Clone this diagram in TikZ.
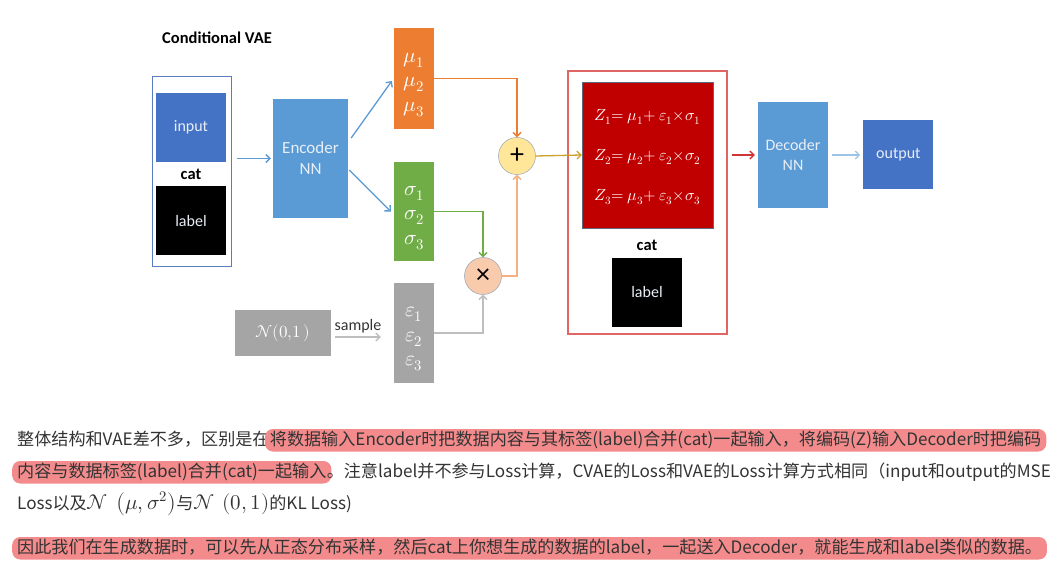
\documentclass[tikz,border=0pt]{standalone}
\usepackage{fontspec}
\usepackage{unicode-math}
\setmainfont{Carlito}
\newfontfamily\cjk{Noto Sans CJK SC}
\usetikzlibrary{positioning,arrows.meta}
\definecolor{inblue}{RGB}{68,114,196}
\definecolor{encblue}{RGB}{91,155,213}
\definecolor{muorange}{RGB}{237,125,49}
\definecolor{sigreen}{RGB}{112,173,71}
\definecolor{epsgray}{RGB}{165,165,165}
\definecolor{plusfill}{RGB}{255,230,153}
\definecolor{timesfill}{RGB}{248,203,173}
\definecolor{opline}{RGB}{132,151,176}
\definecolor{zred}{RGB}{192,0,0}
\definecolor{framered}{RGB}{224,102,102}
\definecolor{frameblue}{RGB}{90,125,190}
\definecolor{goldarr}{RGB}{201,162,39}
\definecolor{redarr}{RGB}{208,52,52}
\definecolor{paleblue}{RGB}{157,195,230}
\definecolor{paleorange}{RGB}{244,177,131}
\definecolor{palegray}{RGB}{190,190,190}
\definecolor{hlpink}{RGB}{243,139,140}
\definecolor{inktext}{RGB}{51,51,51}
\definecolor{softwhite}{RGB}{232,238,247}

\begin{document}
\begin{tikzpicture}[x=1pt,y=-1pt,
          cell/.style={fill=#1,text=softwhite,font=\fontsize{16}{20}\selectfont,
            align=center,inner sep=0pt},
          vec/.style={fill=#1,text=white,minimum width=40pt,
            font=\fontsize{21}{24.5}\selectfont,align=center,inner sep=0pt},
          op/.style={circle,draw=opline,fill=#1,minimum size=37pt,
            inner sep=0pt,font=\fontsize{28}{28}\selectfont},
          lnk/.style={draw=#1,line width=1.3pt,
            -{Straight Barb[length=4pt,width=8pt]}},
          tag/.style={font=\bfseries\fontsize{16.5}{18}\selectfont,inner sep=0pt},
          para/.style={font=\cjk\fontsize{17.1}{20}\selectfont,text=inktext,
            inner sep=0pt,anchor=base west},
          hl/.style={fill=hlpink,rounded corners=8pt,inner xsep=5pt,
            inner ysep=2pt,text height=14pt,text depth=4.5pt}]

        \fill[white] (0,0) rectangle (1062,572);
        \useasboundingbox (0,0) rectangle (1062,572);

        \node[tag] (title) at (217,38) {Conditional VAE};

        \node[cell=inblue,minimum width=70pt,minimum height=69pt] (input)
          at (191,127.5) {input};
        \node[cell=black,minimum width=70pt,minimum height=69pt,
          below=24pt of input] (lab1) {label};
        \node[tag] (cat1) at (191,174) {cat};
        \node[draw=frameblue,line width=1pt,minimum width=79pt,
          minimum height=189pt] (grp1) at (191.5,171.5) {};

        \node[cell=encblue,minimum width=75pt,minimum height=119pt,
          font=\fontsize{17}{21}\selectfont] (enc) at (310.5,158.5) {Encoder\\NN};

        \node[vec=muorange,minimum height=101pt] (mu) at (414,78.5)
          {\rule{0pt}{22pt}$\mu_1$\\$\mu_2$\\$\mu_3$};
        \node[vec=sigreen,minimum height=99pt] (sig) at (414,211.5)
          {\rule{0pt}{22pt}$\sigma_1$\\$\sigma_2$\\$\sigma_3$};
        \node[vec=epsgray,minimum height=100pt] (eps) at (414,333)
          {\rule{0pt}{22pt}$\varepsilon_1$\\$\varepsilon_2$\\$\varepsilon_3$};

        \node[cell=epsgray,text=white,minimum width=96pt,minimum height=46pt,
          font=\fontsize{17}{20}\selectfont] (prior) at (283,333)
          {$\mathcal{N}(0{,}1\,)$};

        \node[op=plusfill] (plus) at (517,156) {+};
        \node[op=timesfill] (times) at (483,276) {×};

        \node[draw=framered,line width=1.2pt,minimum width=159pt,
          minimum height=263pt] (zgrp) at (647.5,202.5) {};
        \node[fill=zred,draw=opline!70!black,line width=0.4pt,
          minimum width=131pt,minimum height=146pt,text=white,
          font=\fontsize{16}{40}\selectfont,align=center] (zbox) at (647.5,155)
          {\rule{0pt}{16pt}$Z_1{=}\ \mu_1{+}\ \varepsilon_1{\times}\sigma_1$\\
           $Z_2{=}\ \mu_2{+}\ \varepsilon_2{\times}\sigma_2$\\
           $Z_3{=}\ \mu_3{+}\ \varepsilon_3{\times}\sigma_3$};
        \node[tag] (cat2) at (647,245) {cat};
        \node[cell=black,minimum width=70pt,minimum height=69pt] (lab2)
          at (647,292.5) {label};

        \node[cell=encblue,minimum width=70pt,minimum height=106pt] (dec)
          at (793,155) {Decoder\\NN};
        \node[cell=inblue,minimum width=70pt,minimum height=69pt,
          right=35pt of dec] (out) {output};

        \draw[lnk=encblue] ([xshift=5pt]grp1.east |- enc.west)
          -- ([xshift=-2pt]enc.west);
        \draw[lnk=encblue] ([xshift=3pt,yshift=20.5pt]enc.east)
          -- ([xshift=-2pt,yshift=-2.5pt]mu.west);
        \draw[lnk=encblue] ([xshift=1pt,yshift=-11.5pt]enc.east)
          -- ([xshift=-3pt]sig.west);
        \draw[lnk=muorange] (mu.east) -| (plus.north);
        \draw[lnk=sigreen] (sig.east) -| (times.north);
        \draw[lnk=palegray] (eps.east) -| (times.south);
        \draw[lnk=paleorange] (times.east) -| (plus.south);
        \draw[lnk=goldarr] (plus.east) -- (zbox.west);
        \draw[lnk=palegray] ([xshift=4pt,yshift=-4pt]prior.east)
          -- node[above=3pt,text=inktext,inner sep=0pt,
            font=\fontsize{16}{18}\selectfont] (smp) {sample}
          ([xshift=-13pt,yshift=-4pt]eps.west);
        \draw[lnk=redarr] ([xshift=4pt]zgrp.east |- dec.west)
          -- ([xshift=-3pt]dec.west);
        \draw[lnk=paleblue] ([xshift=4pt]dec.east |- out.west)
          -- ([xshift=-3pt]out.west);

        \node[para] (p1a) at (17,445) {整体结构和VAE差不多，区别是在};
        \node[para,hl] (p1b) at ([xshift=-5pt]p1a.base east)
          {将数据输入Encoder时把数据内容与其标签(label)合并(cat)一起输入，将编码(Z)输入Decoder时把编码};

        \node[para,hl] (p2a) at (12,477) {内容与数据标签(label)合并(cat)一起输入};
        \node[para] (p2b) at ([xshift=-5pt]p2a.base east)
          {。注意label并不参与Loss计算，CVAE的Loss和VAE的Loss计算方式相同（input和output的MSE};

        \node[para] (p3) at (17,509)
          {Loss以及{\fontsize{21}{24}\selectfont$\mathcal{N}\ \left(\mu,\sigma^{2}\right)$}与{\fontsize{21}{24}\selectfont$\mathcal{N}\ \left(0,1\right)$}的KL Loss)};

        \node[para,hl] (p4) at (12,553)
          {因此我们在生成数据时，可以先从正态分布采样，然后cat上你想生成的数据的label，一起送入Decoder，就能生成和label类似的数据。};
      \end{tikzpicture}
\end{document}
